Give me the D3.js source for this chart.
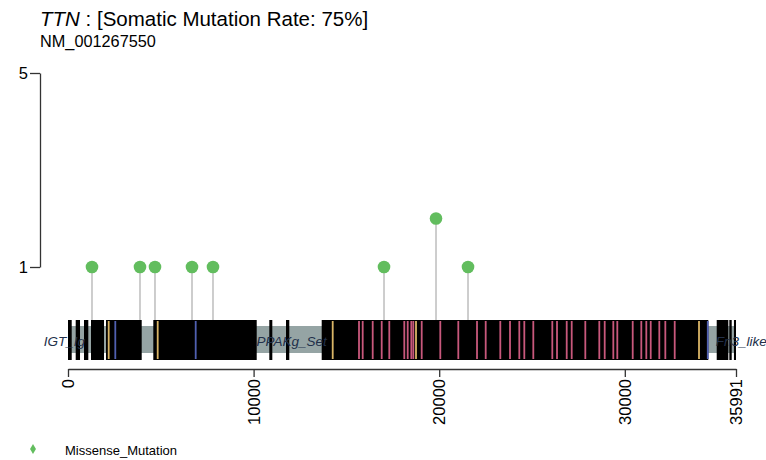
<!DOCTYPE html>
<html>
<head>
<meta charset="utf-8">
<script src="https://cdn.jsdelivr.net/npm/d3@7"></script>
<style>
  body { margin: 0; background: #fff; }
  svg { font-family: "Liberation Sans", Arial, sans-serif; }
</style>
</head>
<body>
<div id="chart"></div>
<script>
// gene / protein info
const geneName = "TTN";
const mutRate = "75%";
const refSeq = "NM_001267550";
const protLen = 35991;

// mutations (amino-acid position, count)
const mutPos = [1293, 3879, 4687, 6681, 7812, 17026, 19828, 21552];
const mutCount = [1, 1, 1, 1, 1, 1, 2, 1];

// domain blocks (aa)
const domStart = [0, 415, 862, 1239, 2047, 4596, 10846, 11746, 13669, 34952, 35631, 35880];
const domEnd = [200, 647, 1094, 1940, 3971, 10167, 11008, 11923, 34499, 35577, 35760, 35991];

// coloured domain stripes (aa)
const pinkPos = [15679, 15878, 16417, 16902, 17311, 18119, 18303, 18497, 18605, 19057, 20059, 21029,
  22037, 22505, 23292, 23815, 24316, 24585, 25070, 26094, 26347, 26870, 27139, 27872, 28626, 28917,
  29381, 29596, 30426, 30889, 31159, 31396, 31859, 32183, 32689];
const yellowPos = [2193, 4833, 14262, 18750, 33998];
const bluePos = [2548, 6880, 34470];

// domain labels (start position, except last which ends there)
const labelText = ["IGT_Ig", "PPAKg_Set", "Fn3_like"];
const labelPos = [-1300, 10150, 37650];
const labelAnchor = ["start", "start", "end"];

const xTicks = [0, 10000, 20000, 30000, 35991];
const yTicks = [1, 5];
const legendLabels = ["Missense_Mutation"];

const W = 766, H = 460;
const svg = d3.select("#chart").append("svg").attr("width", W).attr("height", H);

const x = d3.scaleLinear().domain([0, protLen]).range([68, 736]);
const y = d3.scaleLinear().domain([1, 5]).range([267, 73]);

const protTop = 320, protBot = 360;

// title
const title = svg.append("text").attr("x", 40).attr("y", 26).style("font-size", "20.5px").attr("fill", "#000");
title.append("tspan").style("font-style", "italic").text(geneName);
title.append("tspan").text(" : [Somatic Mutation Rate: " + mutRate + "]");
svg.append("text").attr("x", 40).attr("y", 46.5).style("font-size", "16.3px").text(refSeq);

// y axis
const yAxis = svg.append("g").attr("transform", "translate(40,0)")
  .call(d3.axisLeft(y).tickValues(yTicks).tickSize(10).tickSizeOuter(0).tickFormat(d3.format("d")));
yAxis.select(".domain").attr("stroke", "#333").attr("stroke-width", 1.3);
yAxis.selectAll(".tick line").attr("stroke", "#333").attr("stroke-width", 1.3);
yAxis.selectAll(".tick text").style("font-size", "16.5px").attr("fill", "#000").attr("x", -12);

// lollipop stems
svg.append("g").selectAll("line").data(mutPos).enter().append("line")
  .attr("x1", d => x(d)).attr("x2", d => x(d))
  .attr("y1", protTop).attr("y2", (d, i) => y(mutCount[i]))
  .attr("stroke", "#bdbdbd").attr("stroke-width", 1.5);

// protein backbone
svg.append("rect").attr("x", x(0)).attr("y", 326).attr("width", x(protLen) - x(0)).attr("height", 27)
  .attr("fill", "#95a4a4");

// domains
svg.append("g").selectAll("rect").data(domStart).enter().append("rect")
  .attr("x", d => x(d)).attr("y", protTop)
  .attr("width", (d, i) => Math.max(1, x(domEnd[i]) - x(d)))
  .attr("height", protBot - protTop).attr("fill", "#000");

// coloured stripes
function stripes(pos, col) {
  svg.append("g").selectAll("rect").data(pos).enter().append("rect")
    .attr("x", d => x(d) - 0.9).attr("y", protTop + 1).attr("width", 1.8)
    .attr("height", protBot - protTop - 2).attr("fill", col);
}
stripes(pinkPos, "#c8587c");
stripes(yellowPos, "#d9b566");
stripes(bluePos, "#5060b0");

// domain labels
svg.append("g").selectAll("text").data(labelText).enter().append("text")
  .attr("x", (d, i) => x(labelPos[i])).attr("y", 345.5)
  .attr("text-anchor", (d, i) => labelAnchor[i])
  .style("font-size", "13.5px").style("font-style", "italic")
  .attr("fill", "#22304a").text(d => d);

// points
svg.append("g").selectAll("circle").data(mutPos).enter().append("circle")
  .attr("cx", d => x(d)).attr("cy", (d, i) => y(mutCount[i])).attr("r", 6.3)
  .attr("fill", "#62bd5e");

// x axis
const xAxis = svg.append("g").attr("transform", "translate(0,369)")
  .call(d3.axisBottom(x).tickValues(xTicks).tickSize(8).tickSizeOuter(0).tickFormat(d3.format("d")));
xAxis.select(".domain").attr("stroke", "#333").attr("stroke-width", 1.3);
xAxis.selectAll(".tick line").attr("stroke", "#333").attr("stroke-width", 1.3);
xAxis.selectAll(".tick text")
  .style("font-size", "16.5px").attr("fill", "#000")
  .attr("transform", "rotate(-90)").attr("text-anchor", "end")
  .attr("x", -10).attr("y", 0).attr("dy", "0.35em");

// legend
const leg = svg.append("g").selectAll("g").data(legendLabels).enter().append("g")
  .attr("transform", (d, i) => `translate(33,${449 + i * 18})`);
leg.append("path").attr("d", d3.symbol(d3.symbolDiamond, 30)).attr("fill", "#62bd5e");
leg.append("text").attr("x", 32).attr("y", 6).style("font-size", "13px").text(d => d);
</script>
</body>
</html>
